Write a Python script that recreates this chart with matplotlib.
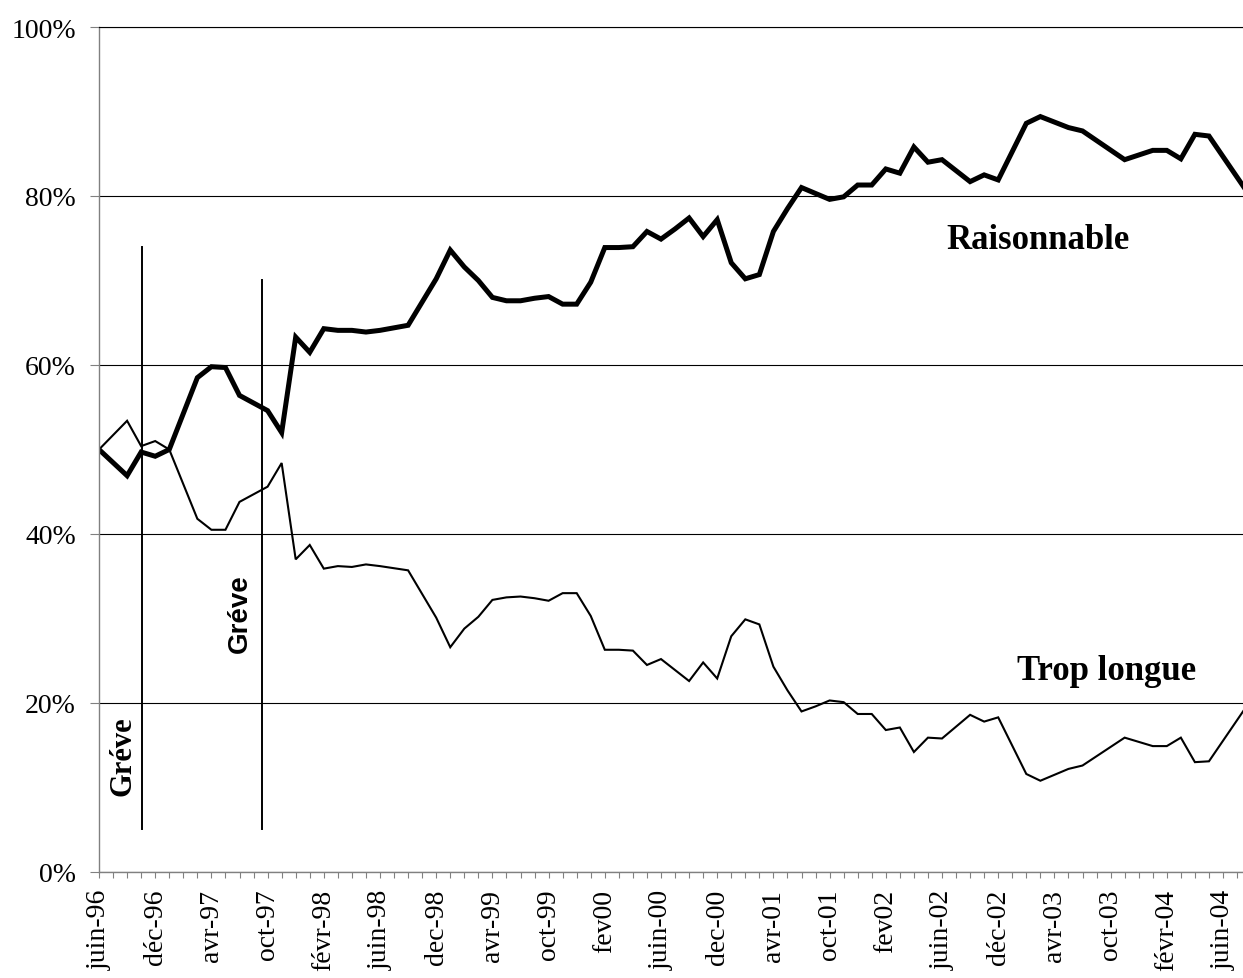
import numpy as np
import matplotlib
matplotlib.use('Agg')
import matplotlib.pyplot as plt
from matplotlib.ticker import FuncFormatter, MultipleLocator

# survey wave position on the category axis (one tick per wave)
wave_idx = [0, 2, 3, 4, 5, 7, 8, 9, 10, 12, 13, 14, 15, 16, 17, 18, 19, 20,
            22, 24, 25, 26, 27, 28, 29, 30, 31, 32, 33, 34, 35, 36, 37, 38,
            39, 40, 41, 42, 43, 44, 45, 46, 47, 48, 49, 50, 51, 52, 53, 54,
            55, 56, 57, 58, 59, 60, 62, 63, 64, 66, 67, 69, 70, 73, 75, 76,
            77, 78, 79, 82]

raisonnable = [50.0, 46.9, 49.7, 49.2, 50.0, 58.5, 59.8, 59.7, 56.4, 54.6,
               52.0, 63.3, 61.5, 64.3, 64.1, 64.1, 63.9, 64.1, 64.7, 70.2,
               73.6, 71.6, 70.0, 68.0, 67.6, 67.6, 67.9, 68.1, 67.2, 67.2,
               69.8, 73.9, 73.9, 74.0, 75.8, 74.9, 76.1, 77.4, 75.2, 77.2,
               72.1, 70.2, 70.7, 75.8, 78.5, 81.0, 80.3, 79.6, 79.9, 81.3,
               81.3, 83.2, 82.7, 85.8, 84.0, 84.3, 81.7, 82.5, 81.9, 88.6,
               89.4, 88.1, 87.7, 84.3, 85.4, 85.4, 84.4, 87.3, 87.1, 79.8]

trop_longue = [50.0, 53.4, 50.4, 51.0, 50.0, 41.8, 40.5, 40.5, 43.8, 45.6,
               48.4, 37.0, 38.7, 35.9, 36.2, 36.1, 36.4, 36.2, 35.7, 30.1,
               26.6, 28.8, 30.2, 32.2, 32.5, 32.6, 32.4, 32.1, 33.0, 33.0,
               30.3, 26.3, 26.3, 26.2, 24.5, 25.2, 23.9, 22.6, 24.8, 22.9,
               27.9, 29.9, 29.3, 24.3, 21.5, 19.0, 19.6, 20.3, 20.1, 18.7,
               18.7, 16.8, 17.1, 14.2, 15.9, 15.8, 18.6, 17.8, 18.3, 11.6,
               10.8, 12.2, 12.6, 15.9, 14.9, 14.9, 15.9, 13.0, 13.1, 20.4]

# labels shown every 4 ticks
month_labels = ['juin-96', 'déc-96', 'avr-97', 'oct-97', 'févr-98', 'juin-98',
                'dec-98', 'avr-99', 'oct-99', 'fev00', 'juin-00', 'dec-00',
                'avr-01', 'oct-01', 'fev02', 'juin-02', 'déc-02', 'avr-03',
                'oct-03', 'févr-04', 'juin-04']

# strike markers (position on category axis)
greve_pos = [3.04, 11.58]

serif = 'Liberation Serif'

fig = plt.figure(figsize=(12.43, 9.79), dpi=100)
ax = fig.add_axes([99 / 1243., 1 - 873 / 979., 1 - 99 / 1243., (873 - 28) / 979.])

ax.plot(wave_idx, raisonnable, color='black', lw=3.6, solid_joinstyle='miter')
ax.plot(wave_idx, trop_longue, color='black', lw=1.5, solid_joinstyle='miter')

# strike lines
ax.plot([greve_pos[0], greve_pos[0]], [5.1, 74.0], color='black', lw=1.4)
ax.plot([greve_pos[1], greve_pos[1]], [5.1, 70.1], color='black', lw=1.4)
ax.text(1.73, 13.85, 'Gréve', rotation=90, ha='center', va='center',
        fontsize=22, fontweight='bold', family=serif)
ax.text(10.0, 30.7, 'Gréve', rotation=90, ha='center', va='center',
        fontsize=20, fontweight='bold', family='Liberation Sans')

ax.text(66.8, 73.8, 'Raisonnable', ha='center', va='baseline',
        fontsize=25, fontweight='bold', family=serif)
ax.text(71.7, 22.8, 'Trop longue', ha='center', va='baseline',
        fontsize=25, fontweight='bold', family=serif)

ax.set_xlim(0, 1144 / 14.05)
ax.set_ylim(0, 100)

ax.yaxis.set_major_locator(MultipleLocator(20))
ax.yaxis.set_major_formatter(FuncFormatter(lambda v, p: '{:.0f}%'.format(v)))
ax.grid(axis='y', color='black', lw=0.8)
ax.set_axisbelow(True)

ax.set_xticks(np.arange(0, 82, 1), minor=True)
ax.set_xticks(np.arange(0, 81, 4))
ax.set_xticklabels(month_labels, rotation=90, va='top', ha='center')

for lab in ax.get_xticklabels() + ax.get_yticklabels():
    lab.set_family(serif)
    lab.set_fontsize(20)

ax.tick_params(axis='y', direction='out', length=6.5, width=0.8,
               color='#808080', pad=10)
ax.tick_params(axis='x', which='both', direction='out', length=4,
               width=0.8, color='#808080', pad=8)

ax.spines['right'].set_visible(False)
ax.spines['top'].set_color('black')
ax.spines['top'].set_linewidth(0.8)
ax.spines['left'].set_color('#808080')
ax.spines['bottom'].set_color('#808080')
ax.spines['left'].set_linewidth(1.0)
ax.spines['bottom'].set_linewidth(1.0)

plt.savefig('out.png', dpi=100)
plt.close()
